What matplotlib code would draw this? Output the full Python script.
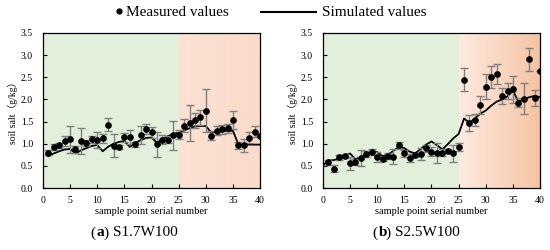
import numpy as np
import matplotlib.pyplot as plt
from matplotlib.colors import LinearSegmentedColormap
from matplotlib.lines import Line2D

plt.rcParams["font.family"] = ["Liberation Serif", "Noto Sans CJK SC"]

sample = np.arange(1, 41)

# panel (a) S1.7W100
meas_a = [0.80, 0.93, 0.96, 1.06, 1.10, 0.87, 1.06, 1.01, 1.10, 1.09,
          1.12, 1.43, 0.95, 0.92, 1.15, 1.15, 0.99, 1.20, 1.33, 1.26,
          0.99, 1.09, 1.09, 1.19, 1.20, 1.41, 1.47, 1.53, 1.60, 1.75,
          1.18, 1.29, 1.33, 1.35, 1.54, 0.96, 0.96, 1.14, 1.27, 1.17]
err_a = [0.06, 0.07, 0.05, 0.12, 0.31, 0.07, 0.29, 0.07, 0.08, 0.18,
         0.10, 0.15, 0.26, 0.05, 0.10, 0.15, 0.06, 0.20, 0.12, 0.12,
         0.28, 0.10, 0.08, 0.33, 0.10, 0.15, 0.41, 0.17, 0.17, 0.49,
         0.10, 0.10, 0.10, 0.10, 0.20, 0.08, 0.15, 0.12, 0.12, 0.0]
sim_x_a = np.arange(1, 41)
sim_a = [0.72, 0.78, 0.83, 0.87, 0.88, 0.78, 0.85, 0.90, 0.95, 0.97,
         0.83, 0.93, 1.00, 1.04, 1.06, 0.93, 1.02, 1.08, 1.13, 1.14,
         1.02, 1.10, 1.17, 1.22, 1.25, 1.30, 1.35, 1.39, 1.40, 1.40,
         1.25, 1.27, 1.29, 1.29, 1.29, 0.98, 0.98, 0.98, 0.98, 0.98]

# panel (b) S2.5W100
meas_b = [0.58, 0.44, 0.69, 0.72, 0.56, 0.59, 0.67, 0.77, 0.82, 0.70,
          0.66, 0.73, 0.71, 0.96, 0.78, 0.68, 0.75, 0.77, 0.90, 0.82,
          0.79, 0.80, 0.84, 0.78, 0.93, 2.45, 1.47, 1.53, 1.88, 2.29,
          2.51, 2.57, 2.07, 2.19, 2.23, 1.93, 2.01, 2.91, 2.03, 2.65]
err_b = [0.05, 0.08, 0.05, 0.05, 0.15, 0.07, 0.18, 0.07, 0.07, 0.12,
         0.05, 0.07, 0.17, 0.08, 0.07, 0.09, 0.05, 0.13, 0.08, 0.10,
         0.22, 0.07, 0.05, 0.20, 0.09, 0.26, 0.18, 0.14, 0.20, 0.28,
         0.25, 0.23, 0.18, 0.18, 0.30, 0.10, 0.35, 0.26, 0.18, 0.0]
sim_x_b = np.arange(0, 41)
sim_b = [0.51, 0.62, 0.63, 0.66, 0.72, 0.78, 0.65, 0.70, 0.76, 0.82,
         0.81, 0.72, 0.75, 0.84, 0.93, 0.90, 0.82, 0.78, 0.88, 0.98,
         1.05, 0.97, 0.87, 0.99, 1.12, 1.22, 1.57, 1.47, 1.57, 1.68,
         1.75, 1.86, 1.95, 2.00, 2.07, 2.20, 1.95, 2.00, 2.05, 2.08, 2.05]

xticks = [0, 5, 10, 15, 20, 25, 30, 35, 40]
yticks = [0.0, 0.5, 1.0, 1.5, 2.0, 2.5, 3.0, 3.5]

green = "#e2efda"
fig = plt.figure(figsize=(5.5, 2.5), dpi=100)
ax_a = fig.add_axes([0.078, 0.248, 0.395, 0.62])
ax_b = fig.add_axes([0.587, 0.248, 0.395, 0.62])

panels = [
    (ax_a, meas_a, err_a, sim_x_a, sim_a, "#fbe2d3", "#fadacb", "a", "S1.7W100", 0.164),
    (ax_b, meas_b, err_b, sim_x_b, sim_b, "#fdeae0", "#f5c3a3", "b", "S2.5W100", 0.677),
]

for ax, meas, err, sx, sim, c0, c1, tag, name, x0 in panels:
    ax.axvspan(0, 25, color=green, zorder=0, lw=0)
    cmap = LinearSegmentedColormap.from_list("bg", [c0, c1])
    ax.imshow(np.linspace(0, 1, 100).reshape(1, -1), cmap=cmap, aspect="auto",
              extent=[25, 40, 0, 3.5], zorder=0)
    ax.plot(sx, sim, color="black", lw=1.3, zorder=3)
    ax.errorbar(sample, meas, yerr=err, fmt="o", ms=3.8, color="black",
                ecolor="#7f7f7f", elinewidth=1.0, capsize=3, capthick=1.0, zorder=4)
    ax.set_xlim(0, 40)
    ax.set_ylim(0, 3.5)
    ax.set_xticks(xticks)
    ax.set_yticks(yticks)
    ax.set_yticklabels([f"{v:.1f}" for v in yticks])
    ax.tick_params(direction="in", labelsize=7, length=3, width=0.8)
    ax.tick_params(axis="x", pad=6)
    ax.tick_params(axis="y", pad=7)
    for s in ax.spines.values():
        s.set_linewidth(0.9)
    ax.set_xlabel("sample point serial number", fontsize=7.5, labelpad=1)
    ax.set_ylabel("soil salt（g/kg）", fontsize=7, labelpad=2)
    # caption: "(" bold letter ")" name
    fig.text(x0, 0.068, "(", ha="left", va="center", fontsize=11)
    fig.text(x0 + 0.011, 0.068, tag, ha="left", va="center", fontsize=11,
             fontweight="bold")
    fig.text(x0 + 0.024, 0.068, ")", ha="left", va="center", fontsize=11)
    fig.text(x0 + 0.041, 0.068, name, ha="left", va="center", fontsize=11)

# legend drawn by hand, as in the reference
fig.add_artist(Line2D([0.216], [0.956], marker="o", ms=3.5, color="black",
                      transform=fig.transFigure))
fig.text(0.229, 0.952, "Measured values", ha="left", va="center", fontsize=11)
fig.add_artist(Line2D([0.474, 0.575], [0.952, 0.952], color="black", lw=1.5,
                      transform=fig.transFigure))
fig.text(0.585, 0.952, "Simulated values", ha="left", va="center", fontsize=11)

fig.savefig("out.png", dpi=100)
